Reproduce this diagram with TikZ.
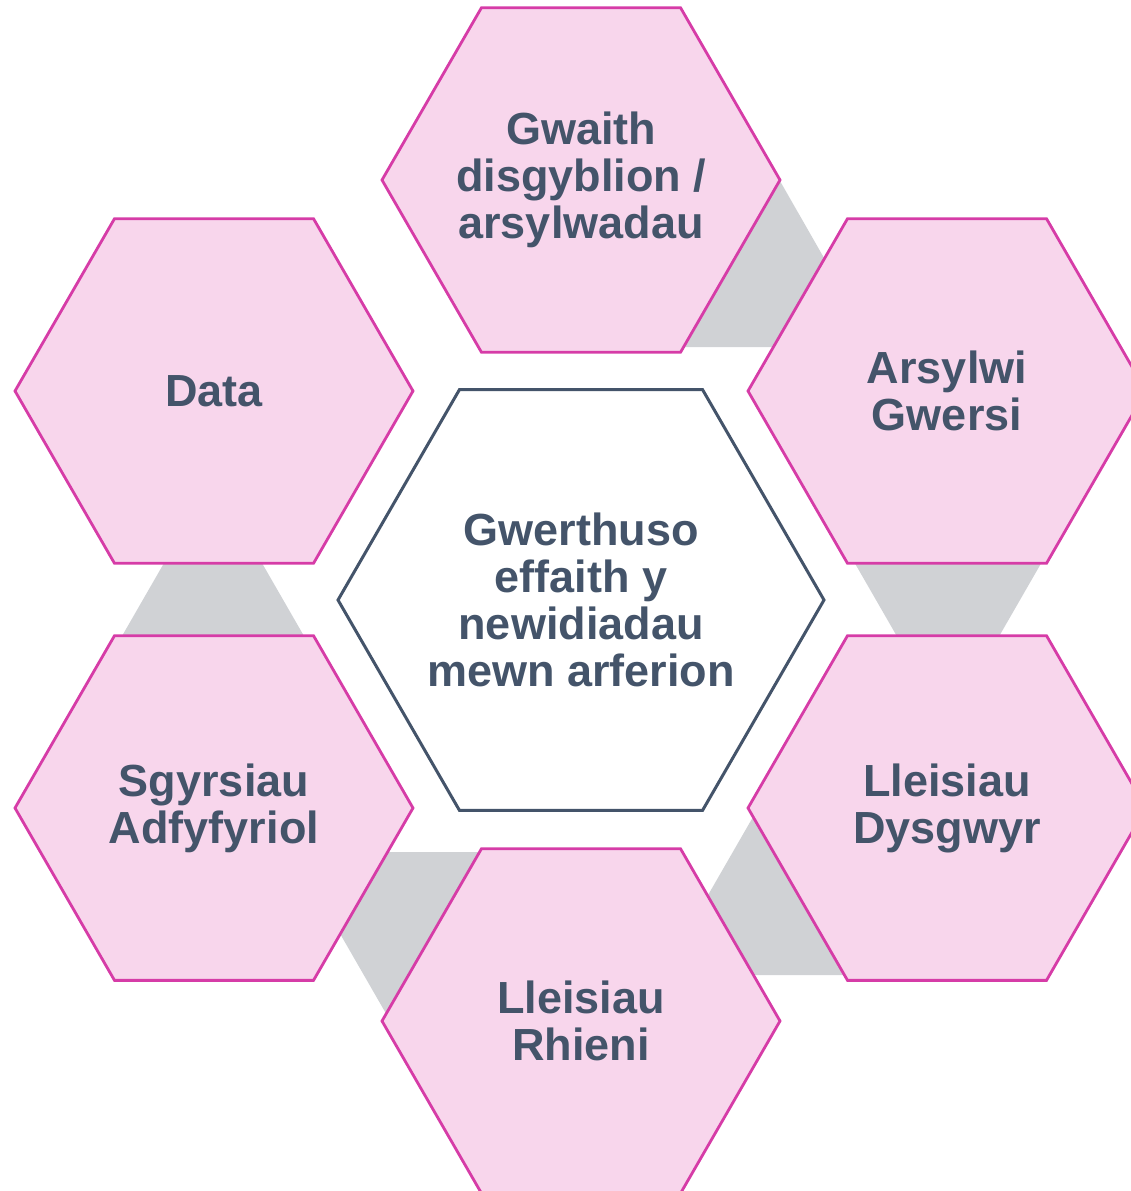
\documentclass[tikz,border=0pt]{standalone}
\usepackage{fontspec}
\setmainfont{Liberation Sans}
\usepackage{tikz}
\usetikzlibrary{shapes.geometric}

\definecolor{hexpink}{HTML}{F8D6EC}
\definecolor{hexrim}{HTML}{D63CA7}
\definecolor{slate}{HTML}{44546A}
\definecolor{gapgrey}{HTML}{D0D2D5}

\tikzset{
  hexa/.style={regular polygon, regular polygon sides=6, minimum size=398pt, inner sep=-90pt,
    fill=hexpink, draw=hexrim, line width=2.8pt, text=slate, align=center,
    font=\bfseries\fontsize{45}{47}\selectfont},
  hub/.style={hexa, minimum size=486pt, fill=white, draw=slate, line width=3pt},
  gap/.style={fill=gapgrey}
}

\begin{document}
\begin{tikzpicture}[x=1pt,y=-1pt]
  \useasboundingbox (0,0) rectangle (1131,1191);
  \clip (0,0) rectangle (1131,1191);

  % grey wedges between neighbours
  \fill[gap] (780,181) -- (875,347) -- (685,347) -- cycle;
  \fill[gap] (853,560) -- (1043,560) -- (948,725) -- cycle;
  \fill[gap] (213,478) -- (308,643) -- (118,643) -- cycle;
  \fill[gap] (293,852) -- (483,852) -- (388,1017) -- cycle;
  \fill[gap] (757,810) -- (852,975) -- (662,975) -- cycle;

  \draw (581,600) node[hub] (hub) {Gwerthuso\\effaith y\\newidiadau\\mewn arferion};

  \draw (581,180) node[hexa] (gwaith) {Gwaith\\disgyblion /\\arsylwadau};
  \draw (947,391) node[hexa] (gwersi) {Arsylwi\\Gwersi};
  \draw (947,808) node[hexa] (dysgwyr) {Lleisiau\\Dysgwyr};
  \draw (581,1021) node[hexa] (rhieni) {Lleisiau\\Rhieni};
  \draw (214,808) node[hexa] (sgyrsiau) {Sgyrsiau\\Adfyfyriol};
  \draw (214,391) node[hexa] (data) {Data};

\end{tikzpicture}
\end{document}
